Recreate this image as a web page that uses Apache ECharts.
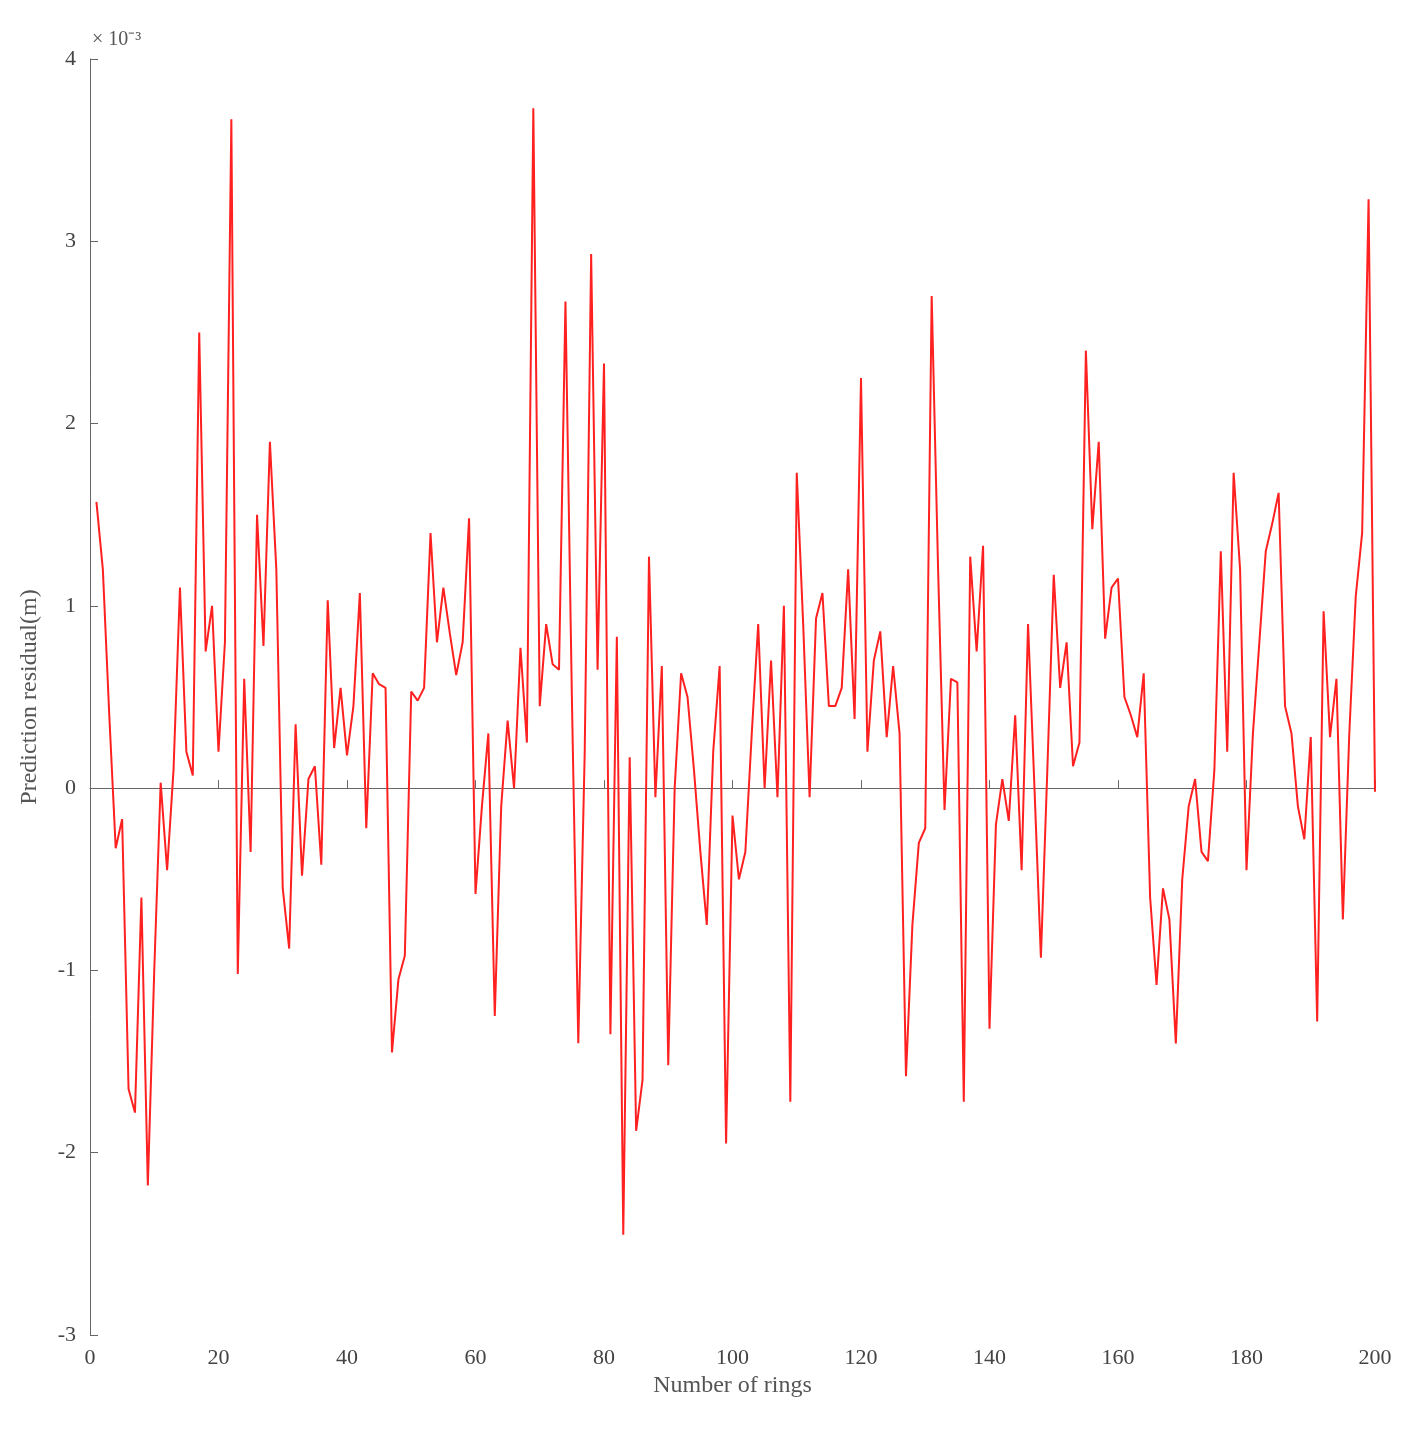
<!DOCTYPE html>
<html><head><meta charset="utf-8">
<script src="https://cdn.jsdelivr.net/npm/echarts@6/dist/echarts.min.js"></script>
<style>html,body{margin:0;padding:0;background:#fff}#c{width:1416px;height:1434px}</style>
</head><body><div id="c"></div>
<script>
// residuals in units of 1e-3 m, rings 1..200
const residuals = [1.57,1.2,0.4,-0.33,-0.17,-1.65,-1.78,-0.6,-2.18,-1.0,
0.03,-0.45,0.1,1.1,0.2,0.07,2.5,0.75,1.0,0.2,
0.8,3.67,-1.02,0.6,-0.35,1.5,0.78,1.9,1.2,-0.55,
-0.88,0.35,-0.48,0.05,0.12,-0.42,1.03,0.22,0.55,0.18,
0.45,1.07,-0.22,0.63,0.57,0.55,-1.45,-1.05,-0.92,0.53,
0.48,0.55,1.4,0.8,1.1,0.85,0.62,0.8,1.48,-0.58,
-0.1,0.3,-1.25,-0.1,0.37,0.0,0.77,0.25,3.73,0.45,
0.9,0.68,0.65,2.67,0.5,-1.4,0.2,2.93,0.65,2.33,
-1.35,0.83,-2.45,0.17,-1.88,-1.6,1.27,-0.05,0.67,-1.52,
0.0,0.63,0.5,0.1,-0.35,-0.75,0.2,0.67,-1.95,-0.15,
-0.5,-0.35,0.3,0.9,0.0,0.7,-0.05,1.0,-1.72,1.73,
0.9,-0.05,0.93,1.07,0.45,0.45,0.55,1.2,0.38,2.25,
0.2,0.7,0.86,0.28,0.67,0.3,-1.58,-0.75,-0.3,-0.22,
2.7,1.2,-0.12,0.6,0.58,-1.72,1.27,0.75,1.33,-1.32,
-0.2,0.05,-0.18,0.4,-0.45,0.9,0.0,-0.93,0.1,1.17,
0.55,0.8,0.12,0.25,2.4,1.42,1.9,0.82,1.1,1.15,
0.5,0.4,0.28,0.63,-0.6,-1.08,-0.55,-0.72,-1.4,-0.5,
-0.1,0.05,-0.35,-0.4,0.1,1.3,0.2,1.73,1.2,-0.45,
0.3,0.8,1.3,1.45,1.62,0.45,0.3,-0.1,-0.28,0.28,
-1.28,0.97,0.28,0.6,-0.72,0.3,1.05,1.4,3.23,-0.02];
const rings = residuals.map((_, i) => i + 1);
const font = 'Liberation Serif';
const chart = echarts.init(document.getElementById('c'));
chart.setOption({
  animation:false,
  grid:{left:90,right:41,top:59,bottom:99},
  xAxis:{type:'value',min:0,max:200,interval:20,name:'Number of rings',nameLocation:'middle',nameGap:38,
    nameTextStyle:{fontFamily:font,fontSize:24,color:'#555'},
    axisLine:{lineStyle:{color:'#666'}},axisTick:{inside:true,length:8,lineStyle:{color:'#666'}},
    axisLabel:{fontFamily:font,fontSize:22,color:'#444',margin:12},splitLine:{show:false}},
  yAxis:{type:'value',min:-3,max:4,interval:1,name:'Prediction residual(m)',nameLocation:'middle',nameGap:48,nameRotate:90,
    nameTextStyle:{fontFamily:font,fontSize:24,color:'#555'},
    axisLine:{show:true,lineStyle:{color:'#666'}},axisTick:{show:true,inside:true,length:8,lineStyle:{color:'#666'}},
    axisLabel:{fontFamily:font,fontSize:22,color:'#444',margin:14},splitLine:{show:false}},
  graphic:[{type:'text',left:92,top:30,style:{text:'× 10⁻³',fontFamily:font,fontSize:20,fill:'#555'}}],
  series:[{type:'line',data:rings.map((x,i)=>[x,residuals[i]]),showSymbol:false,
    lineStyle:{color:'#ff2020',width:2}}]
});
</script></body></html>
